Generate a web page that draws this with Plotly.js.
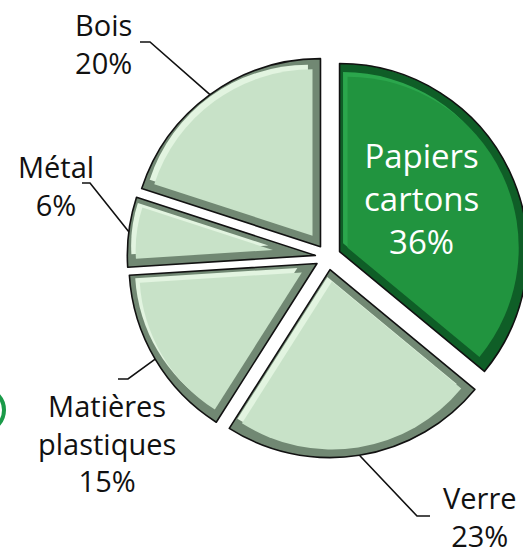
<!DOCTYPE html>
<html>
<head>
<meta charset="utf-8">
<script src="https://cdn.plot.ly/plotly-3.0.1.min.js"></script>
<style>
  html, body { margin: 0; padding: 0; background: #ffffff; overflow: hidden; width: 523px; height: 557px; }
  #chart { width: 560px; height: 557px; }
</style>
</head>
<body>
<div id="chart"></div>
<script>
// ---- data ----
const labels = ['Papiers cartons', 'Verre', 'Matières plastiques', 'Métal', 'Bois'];
const values = [36, 23, 15, 6, 20];
const labelText = ['Papiers<br>cartons', 'Verre', 'Matières<br>plastiques', 'Métal', 'Bois'];
const pctText = ['36%', '23%', '15%', '6%', '20%'];

// ---- styling ----
const faceColors  = ['#21943f', '#c8e2c8', '#c8e2c8', '#c8e2c8', '#c8e2c8'];
const lightColors = ['#2ba64c', '#e2f4e0', '#e2f4e0', '#e2f4e0', '#e2f4e0'];
const darkColors  = ['#0f5e27', '#718873', '#718873', '#718873', '#718873'];

const W = 560, H = 557;
const CX = 328, CY = 257;     // pie centre (px)
const R = 188;                 // radius (px)
const PULL = 0.068;            // explode fraction
const B = 8;                   // bevel width (px)
const SH = 0.8 * B;            // highlight shift

const px = x => x / W;
const py = y => 1 - y / H;

function domainFor(cx, cy, half) {
  return { x: [px(cx - half), px(cx + half)], y: [py(cy + half), py(cy - half)] };
}

const total = values.reduce((a, b) => a + b, 0);
const angles = [];
let cum = 0;
values.forEach(v => {
  const a0 = cum / total * 360;
  cum += v;
  const a1 = cum / total * 360;
  angles.push({ a0, a1, mid: (a0 + a1) / 2, theta: a1 - a0 });
});
const rad = d => d * Math.PI / 180;

const transparent = 'rgba(0,0,0,0)';
const common = {
  type: 'pie', labels: labels, values: values, sort: false, direction: 'clockwise',
  rotation: 0, textinfo: 'none', hoverinfo: 'skip', showlegend: false
};

const traces = [];
// outer silhouette (dark bevel + outline)
traces.push(Object.assign({}, common, {
  domain: domainFor(CX, CY, R * (1 + PULL)),
  pull: values.map(() => PULL),
  marker: { colors: darkColors, line: { color: '#111111', width: 1.6 } }
}));

function faceTrace(i, colors, dx, dy) {
  const d = B / Math.sin(rad(angles[i].theta / 2));
  const ri = R - B - d;
  const off = R * PULL + d;
  const pi = off / ri;
  return Object.assign({}, common, {
    domain: domainFor(CX + dx, CY + dy, ri * (1 + pi)),
    pull: values.map((v, k) => k === i ? pi : 0),
    marker: { colors: values.map((v, k) => k === i ? colors[i] : transparent), line: { width: 0 } }
  });
}
values.forEach((v, i) => traces.push(faceTrace(i, lightColors, -SH * 0.707, -SH * 0.707)));
values.forEach((v, i) => traces.push(faceTrace(i, faceColors, 0, 0)));

// ---- labels & leader lines ----
function arcMid(i) {
  const a = rad(angles[i].mid);
  const dist = R * (1 + PULL);
  return [CX + dist * Math.sin(a), CY - dist * Math.cos(a)];
}
const labelPos = [[421, 198], [480, 516], [107, 443], [56, 185], [103, 44]];
const elbows = [null, [[417, 516], [430, 516]], [[128, 379], [118, 379]], [[90, 183], [82, 183]], [[150, 42], [140, 42]]];
const fontFam = '"Open Sans", Lato, sans-serif';

const annotations = labels.map((l, i) => ({
  xref: 'paper', yref: 'paper', x: px(labelPos[i][0]), y: py(labelPos[i][1]),
  xanchor: 'center', yanchor: 'middle', showarrow: false, align: 'center', borderpad: 0,
  text: labelText[i] + '<br>' + pctText[i],
  font: { family: fontFam, size: i === 0 ? 33 : 29, color: i === 0 ? '#ffffff' : '#111111' }
}));

const shapes = [];
elbows.forEach((e, i) => {
  if (!e) return;
  const s = arcMid(i);
  const path = 'M ' + px(s[0]) + ',' + py(s[1]) + ' L ' + px(e[0][0]) + ',' + py(e[0][1]) +
               ' L ' + px(e[1][0]) + ',' + py(e[1][1]);
  shapes.push({ type: 'path', xref: 'paper', yref: 'paper', path: path, line: { color: '#111111', width: 1.6 } });
});
// partial green ring at left edge
shapes.push({ type: 'circle', xref: 'paper', yref: 'paper',
  x0: px(-32), x1: px(4), y0: py(430), y1: py(390), line: { color: '#1a9a48', width: 4 } });

Plotly.newPlot('chart', traces, {
  width: W, height: H, margin: { l: 0, r: 0, t: 0, b: 0 },
  paper_bgcolor: '#ffffff', plot_bgcolor: '#ffffff',
  annotations: annotations, shapes: shapes
}, { staticPlot: true, displayModeBar: false });
</script>
</body>
</html>
